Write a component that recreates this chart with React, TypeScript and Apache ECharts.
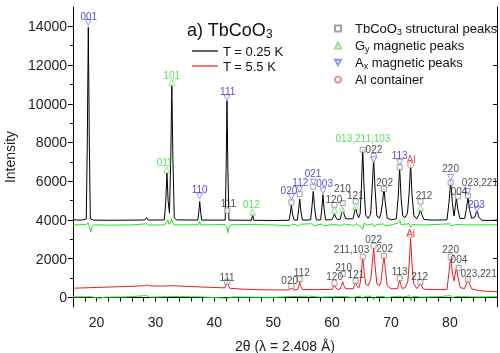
import React, { useEffect, useRef } from 'react';
import * as echarts from 'echarts';

// ---------- data ----------
const xTickValues = [16, 18, 20, 22, 24, 26, 28, 30, 32, 34, 36, 38, 40, 42, 44, 46, 48, 50, 52, 54, 56, 58, 60, 62, 64, 66, 68, 70, 72, 74, 76, 78, 80, 82, 84, 86, 88];
const xLabelValues = [20, 30, 40, 50, 60, 70, 80];
const yLabelValues = [0, 2000, 4000, 6000, 8000, 10000, 12000, 14000];
const yMinorValues = [1000, 3000, 5000, 7000, 9000, 11000, 13000];

// T = 0.25 K pattern
const curveLow: number[][] = [
  [16, 4000], [17.5, 3990], [18.25, 4050], [18.42, 7800], [18.6, 13950], [18.78, 7800], [18.95, 4050], [19.5, 3990],
  [22, 3980], [26, 3990], [28.2, 3995], [28.5, 4120], [28.8, 3990], [31.5, 4000], [31.75, 4900], [31.95, 6450],
  [32.15, 5000], [32.38, 4350], [32.6, 7200], [32.78, 11000], [32.96, 7200], [33.2, 4100], [33.6, 4000],
  [37.2, 3990], [37.38, 4450], [37.52, 4950], [37.68, 4400], [37.85, 3990], [41.85, 3990], [42.0, 6600],
  [42.15, 10150], [42.3, 6600], [42.48, 3990], [46.3, 3980], [46.5, 4280], [46.7, 3980], [50, 3970],
  [52.7, 3980], [52.9, 4350], [53.08, 4780], [53.27, 4300], [53.55, 3990], [54.1, 3990], [54.32, 4550],
  [54.5, 5075], [54.68, 4500], [54.95, 3990], [56.35, 4000], [56.6, 4750], [56.8, 5470], [57.0, 4700],
  [57.3, 4000], [58.05, 4000], [58.27, 4650], [58.45, 5300], [58.63, 4600], [58.9, 4000], [59.95, 4010],
  [60.2, 4170], [60.4, 4315], [60.6, 4150], [60.9, 4010], [61.4, 4040], [61.6, 4330], [61.8, 4610],
  [62.0, 4320], [62.3, 4060], [63.55, 4060], [63.8, 4380], [64.0, 4690], [64.2, 4350], [64.5, 4120],
  [64.75, 4300], [64.98, 5700], [65.2, 7650], [65.42, 5700], [65.7, 4250], [66.1, 4080], [66.55, 4300],
  [66.83, 5800], [67.05, 7200], [67.27, 5700], [67.6, 4200], [68.05, 4100], [68.3, 4350], [68.56, 4900],
  [68.8, 5650], [69.04, 4850], [69.35, 4100], [70.0, 4000], [70.9, 4060], [71.2, 5100], [71.47, 6680],
  [71.72, 5100], [72.0, 4200], [72.4, 4120], [72.8, 4350], [73.08, 5400], [73.33, 6850], [73.57, 5300],
  [73.9, 4200], [74.4, 4060], [74.75, 4280], [75.0, 4520], [75.25, 4260], [75.6, 4020], [77, 3990],
  [79.5, 4000], [79.85, 4900], [80.13, 5990], [80.42, 4900], [80.7, 4200], [80.9, 4650], [81.1, 5130],
  [81.35, 4550], [81.7, 4080], [82.5, 4070], [82.8, 4550], [83.06, 5180], [83.32, 4550], [83.7, 4080],
  [84.25, 4150], [84.6, 4520], [84.9, 4150], [85.4, 3980], [87, 3970], [88, 3990],
];

// T = 5.5 K pattern
const curveHigh: number[][] = [
  [16, 470], [18, 490], [20, 510], [23, 540], [26, 570], [28.3, 600], [28.6, 640], [29, 590], [31, 580],
  [33, 600], [35, 570], [38, 530], [41.8, 490], [42.0, 620], [42.2, 900], [42.4, 600], [42.6, 470],
  [45, 420], [48, 390], [52.7, 380], [53.08, 470], [53.5, 380], [54.15, 400], [54.35, 600], [54.5, 780],
  [54.68, 580], [54.95, 400], [57, 400], [60.0, 410], [60.2, 520], [60.4, 640], [60.6, 500], [60.9, 410],
  [61.4, 430], [61.6, 620], [61.8, 810], [62.0, 600], [62.3, 440], [63.6, 450], [63.8, 620], [64.0, 775],
  [64.2, 600], [64.5, 480], [64.75, 700], [64.98, 1350], [65.2, 2100], [65.42, 1350], [65.7, 700],
  [66.1, 600], [66.55, 900], [66.83, 1750], [67.05, 2540], [67.27, 1700], [67.6, 700], [68.05, 600],
  [68.3, 800], [68.56, 1500], [68.8, 2190], [69.04, 1450], [69.35, 600], [70.0, 440], [71.1, 450],
  [71.3, 680], [71.47, 900], [71.65, 650], [71.9, 460], [72.4, 500], [72.85, 800], [73.1, 1800],
  [73.33, 3060], [73.55, 1800], [73.85, 700], [74.4, 450], [74.8, 620], [75.0, 775], [75.2, 600],
  [75.5, 420], [77, 400], [79.5, 400], [79.85, 1300], [80.13, 2100], [80.42, 1250], [80.7, 850],
  [80.9, 1200], [81.1, 1530], [81.4, 1000], [81.75, 500], [82.5, 450], [82.8, 700], [83.06, 980],
  [83.32, 700], [83.7, 440], [85, 340], [87, 300], [88, 290],
];

// difference curves
const diffLow: number[][] = [
  [16, 3740], [18.3, 3760], [18.55, 3870], [18.8, 3650], [19.0, 3360], [19.2, 3600], [19.5, 3740], [22, 3730],
  [26, 3740], [28.5, 3800], [28.9, 3730], [31.6, 3740], [31.9, 3900], [32.1, 4000], [32.3, 3780], [32.55, 3820],
  [32.75, 4050], [33.0, 3780], [33.3, 3740], [37.3, 3750], [37.5, 3930], [37.7, 3740], [41.9, 3760], [42.1, 3700],
  [42.3, 3340], [42.5, 3600], [42.8, 3750], [46.5, 3760], [50, 3740], [52.9, 3700], [53.2, 3790], [54.3, 3700],
  [54.6, 3780], [56.5, 3800], [56.9, 3700], [58.3, 3790], [58.6, 3700], [60.2, 3760], [61.6, 3720], [62, 3790],
  [63.7, 3720], [64.1, 3800], [64.9, 3650], [65.2, 3500], [65.45, 3820], [66, 3740], [66.9, 3800], [67.2, 3640],
  [67.6, 3760], [68.7, 3790], [69.0, 3700], [70, 3740], [71.3, 3850], [71.5, 3980], [71.7, 3760], [73.1, 3800],
  [73.35, 3620], [73.6, 3760], [75, 3740], [76, 3740], [80.0, 3800], [80.2, 3700], [81, 3760], [83, 3740],
  [85, 3740], [88, 3750],
];
const diffHigh: number[][] = [
  [16, 20], [19, 30], [20.5, -40], [21.5, 10], [25, 20], [28.5, 90], [29, 10], [33, 40], [38, 20], [42.2, -50],
  [43, 20], [50, 0], [53, 40], [56, 60], [58, 10], [60, 30], [62, 40], [63.5, 0], [64.8, 60], [65.2, -60],
  [65.6, 50], [66.6, 60], [67.05, -130], [67.5, 50], [68.8, 40], [69.2, -40], [70, 20], [71.5, 60], [72, 20],
  [73.2, 80], [73.4, -180], [73.7, 60], [75, 10], [78, 30], [80.1, 90], [80.4, -20], [81, 40], [85, 20], [88, 30],
];

// peak markers
const structMarks: number[][] = [
  [42.2, 4480], [53.08, 4900], [54.5, 5330], [56.8, 5720], [60.4, 4780], [61.8, 4870], [64.0, 4950], [65.2, 7630],
  [67.05, 7300], [68.8, 5600], [71.47, 6720], [75.0, 4950], [80.13, 5920], [81.4, 5210], [83.06, 5250],
  [42.2, 805], [53.08, 585], [54.5, 945], [60.4, 725], [61.8, 1200], [64.0, 845], [65.2, 2100], [67.05, 2670],
  [68.8, 2150], [71.47, 985], [75.0, 775], [80.13, 2100], [81.5, 1530], [83.06, 930],
];
const gyMarks: number[][] = [
  [32.78, 11090], [31.95, 6580], [46.5, 4400], [60.4, 4520], [61.7, 4560], [64.0, 4700], [75.0, 4630],
];
const axMarks: number[][] = [
  [18.6, 14200], [42.15, 10310], [37.5, 5240], [53.08, 5200], [54.5, 5590], [56.8, 5950], [58.45, 5500],
  [67.05, 7100], [71.47, 6980], [80.13, 6200], [83.06, 5460], [84.6, 4550],
];
const alMarks: number[][] = [[73.33, 6840], [73.33, 3240]];

// peak labels: [x, y, text, kind]
const peakLabels: [number, number, string, string][] = [
  [18.67, 14523, '001', 'a'], [32.76, 11466, '101', 'g'], [31.57, 6959, '011', 'g'], [42.27, 10637, '111', 'a'],
  [37.5, 5560, '110', 'a'], [42.4, 4834, '111', 's'], [46.3, 4782, '012', 'g'], [52.67, 5523, '020', 'a'],
  [54.6, 5958, '112', 'a'], [56.75, 6373, '021', 'a'], [58.73, 5870, '003', 'a'], [60.3, 5041, '120', 's'],
  [61.75, 5620, '210', 's'], [63.95, 5280, '121', 's'], [65.24, 8200, '013,211,103', 'g'], [67.1, 7650, '022', 's'],
  [68.92, 5938, '202', 's'], [71.47, 7337, '113', 'a'], [73.45, 7114, 'Al', 'r'], [75.6, 5249, '212', 's'],
  [80.13, 6632, '220', 's'], [81.55, 5480, '004', 's'], [85.1, 5930, '023,221', 's'], [84.5, 4819, '203', 'a'],
  [42.15, 1036, '111', 's'], [52.8, 860, '020', 's'], [54.85, 1300, '112', 's'], [60.43, 1067, '120', 's'],
  [61.96, 1534, '210', 's'], [64.05, 1155, '121', 's'], [63.3, 2450, '211,103', 's'], [67.05, 3005, '022', 's'],
  [68.92, 2503, '202', 's'], [71.47, 1326, '113', 's'], [73.33, 3316, 'Al', 'r'], [74.86, 1067, '212', 's'],
  [80.13, 2451, '220', 's'], [81.54, 1933, '004', 's'], [84.88, 1244, '023,221', 's'],
];

// ---------- styling ----------
const FONT = '"Liberation Sans", Arial, Helvetica, sans-serif';
const labelColors: Record<string, string> = { s: '#1a1a1a', g: '#2ed62e', a: '#2525c8', r: '#e02a2a' };
const DOWN_TRI = 'path://M0,0 L10,0 L5,9 Z';
const legendNames: Record<string, string> = {
  'TbCoO3 structural peaks': 'TbCoO{s|3} structural peaks',
  'Gy magnetic peaks': 'G{s|y} magnetic peaks',
  'Ax magnetic peaks': 'A{s|x} magnetic peaks',
  'Al container': 'Al container',
};

export default function App() {
  const ref = useRef<HTMLDivElement>(null);
  useEffect(() => {
    if (!ref.current) return;
    const chart = echarts.init(ref.current, undefined, { renderer: 'svg' });
    const axisLine = { show: true, lineStyle: { color: '#000', width: 1 } };
    const markerSeries = (name: string, data: number[][], symbol: string, color: string, size: number) => ({
      type: 'scatter', name, data, symbol, symbolSize: size, silent: true, z: 5,
      itemStyle: { color: '#fff', borderColor: color, borderWidth: 1 },
    });
    const lineIcon = 'path://M0,0 L26,0 L26,1.2 L0,1.2 Z';
    chart.setOption({
      animation: false,
      textStyle: { fontFamily: FONT },
      title: {
        text: 'a) TbCoO{s|3}', left: 182, top: 15,
        textStyle: {
          fontSize: 18, fontWeight: 'normal', color: '#111', fontFamily: FONT,
          rich: { s: { fontSize: 12, verticalAlign: 'bottom', padding: [8, 0, 0, 0], fontFamily: FONT, color: '#111' } },
        },
      },
      legend: [
        {
          data: [{ name: 'T = 0.25 K', icon: lineIcon }, { name: 'T = 5.5 K', icon: lineIcon }],
          orient: 'vertical', left: 187, top: 39,
          itemWidth: 26, itemHeight: 1.2, itemGap: 1,
          textStyle: { fontSize: 13, color: '#111', fontFamily: FONT, lineHeight: 14 },
        },
        {
          data: [
            { name: 'TbCoO3 structural peaks', icon: 'rect' },
            { name: 'Gy magnetic peaks', icon: 'triangle' },
            { name: 'Ax magnetic peaks', icon: DOWN_TRI },
            { name: 'Al container', icon: 'circle' },
          ],
          orient: 'vertical', left: 329, top: 16, itemWidth: 6, itemHeight: 6, itemGap: 2,
          formatter: (n: string) => legendNames[n] ?? n,
          textStyle: {
            fontSize: 13, color: '#111', fontFamily: FONT, lineHeight: 15, padding: [0, 0, 0, 9],
            rich: { s: { fontSize: 9, verticalAlign: 'bottom', lineHeight: 15, padding: [5, 0, 0, 0], color: '#111', fontFamily: FONT } },
          },
        },
      ],
      grid: { left: 73, right: 3, top: 7, bottom: 46, outerBoundsMode: 'none', containLabel: false },
      xAxis: [
        {
          type: 'value', min: 16, max: 88, position: 'bottom',
          axisLine, splitLine: { show: false },
          axisTick: { show: true, inside: false, length: 4, customValues: xTickValues, lineStyle: { color: '#000' } },
          axisLabel: { customValues: xLabelValues, fontSize: 14, color: '#222', margin: 8, fontFamily: FONT },
          name: '2θ (λ = 2.408 Å)', nameLocation: 'middle', nameGap: 32,
          nameTextStyle: { fontSize: 14, color: '#222', fontFamily: FONT },
        },
        {
          type: 'value', min: 16, max: 88, position: 'top',
          axisLine, splitLine: { show: false },
          axisTick: { show: true, inside: true, length: 4, customValues: xTickValues, lineStyle: { color: '#000' } },
          axisLabel: { show: false },
        },
      ],
      yAxis: [
        {
          type: 'value', min: -500, max: 15000, position: 'left',
          axisLine, splitLine: { show: false },
          axisTick: { show: true, inside: false, length: 5, customValues: yLabelValues, lineStyle: { color: '#000' } },
          axisLabel: { customValues: yLabelValues, fontSize: 14, color: '#222', margin: 6, fontFamily: FONT, formatter: (v: number) => String(v) },
          name: 'Intensity', nameLocation: 'middle', nameGap: 52, nameRotate: 90,
          nameTextStyle: { fontSize: 14, color: '#222', fontFamily: FONT },
        },
        {
          type: 'value', min: -500, max: 15000, position: 'left',
          axisLine: { show: false }, splitLine: { show: false },
          axisTick: { show: true, inside: false, length: 3, customValues: yMinorValues, lineStyle: { color: '#000' } },
          axisLabel: { show: false },
        },
        {
          type: 'value', min: -500, max: 15000, position: 'right',
          axisLine, splitLine: { show: false },
          axisTick: { show: true, inside: true, length: 4, customValues: yLabelValues, lineStyle: { color: '#000' } },
          axisLabel: { show: false },
        },
      ],
      series: [
        { type: 'line', name: 'diffLow', data: diffLow, symbol: 'none', lineStyle: { color: '#22e022', width: 1 }, silent: true },
        { type: 'line', name: 'diffHigh', data: diffHigh, symbol: 'none', lineStyle: { color: '#22e022', width: 1 }, silent: true },
        { type: 'line', name: 'T = 0.25 K', data: curveLow, symbol: 'none', itemStyle: { color: '#000' }, lineStyle: { color: '#000', width: 1 }, silent: true },
        { type: 'line', name: 'T = 5.5 K', data: curveHigh, symbol: 'none', itemStyle: { color: '#e41e1e' }, lineStyle: { color: '#e41e1e', width: 1 }, silent: true },
        markerSeries('TbCoO3 structural peaks', structMarks, 'rect', '#8a8a8a', 5),
        markerSeries('Gy magnetic peaks', gyMarks, 'triangle', '#70dd70', 6),
        markerSeries('Ax magnetic peaks', axMarks, DOWN_TRI, '#7a7aee', 6),
        markerSeries('Al container', alMarks, 'circle', '#ee7070', 6),
        {
          type: 'scatter', name: 'peakLabels', symbol: 'circle', symbolSize: 1, silent: true, z: 6,
          itemStyle: { color: 'rgba(0,0,0,0)' },
          label: { show: true, position: 'inside', formatter: '{b}', fontSize: 10, fontFamily: FONT },
          data: peakLabels.map(([x, y, t, k]) => ({ value: [x, y], name: t, label: { color: labelColors[k] } })),
        },
      ],
    });
    return () => chart.dispose();
  }, []);
  return <div ref={ref} style={{ position: 'fixed', left: 0, top: 0, width: 500, height: 353 }} />;
}
